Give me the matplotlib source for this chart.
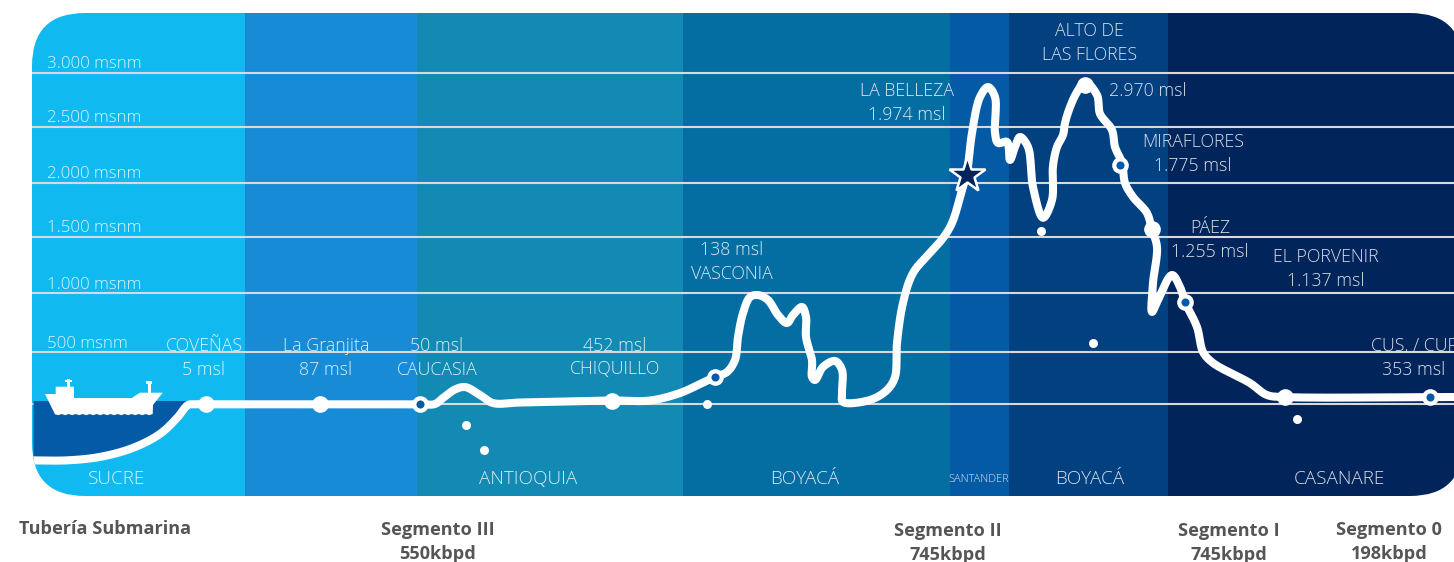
#!/usr/bin/env python
# -*- coding: utf-8 -*-
import numpy as np
import matplotlib
matplotlib.use('Agg')
import matplotlib.pyplot as plt
from matplotlib.patches import FancyBboxPatch, Polygon, Rectangle
from matplotlib.transforms import Affine2D

plt.rcParams['font.family'] = ['Open Sans', 'DejaVu Sans']

W, H = 1454, 562

# elevation axis, the ruled lines are not evenly spaced on the sheet
elev_knots = [-2000, 0, 500, 1000, 1500, 2000, 2500, 3000, 4000]
elev_rows = [614.3, 404.3, 351.7, 292.7, 236.7, 182.7, 126.7, 72.7, -37.3]
grid_elev = [0, 500, 1000, 1500, 2000, 2500, 3000]
grid_names = ['500 msnm', '1.000 msnm', '1.500 msnm', '2.000 msnm', '2.500 msnm', '3.000 msnm']
grid_label_rows = [344, 285, 228, 174, 118, 64]

# departments along the route
band_edges = [32, 245, 417, 683, 950, 1009, 1168, 1463]
band_colors = ['#10B9F0', '#178BD6', '#138AB4', '#046EA3', '#055AA6', '#024080', '#01255A']
band_names = ['SUCRE', 'ANTIOQUIA', 'BOYACÁ', 'SANTANDER', 'BOYACÁ', 'CASANARE']
band_name_x = [117, 528, 805, 979, 1090, 1339]

# pipeline profile: distance along the sheet and elevation
route_x = [33, 67, 100, 133, 160, 177, 188, 194, 206, 320, 420, 435, 443, 454, 465, 480, 493, 520,
           612, 650, 680, 700, 715, 727, 735, 738, 743, 750, 758, 768, 778, 787, 793, 802, 806, 806,
           812, 812, 815, 823, 835, 842, 842, 843, 870, 887, 895, 897, 903, 913, 928, 943, 952,
           962, 967, 972, 980, 988, 995, 995, 998, 1007, 1010, 1015, 1020, 1028, 1033, 1043,
           1052, 1053, 1057, 1063, 1065, 1070, 1077, 1085, 1097, 1100, 1112, 1115, 1122, 1125, 1133, 1147,
           1152, 1157, 1153, 1152, 1158, 1172, 1180, 1185, 1197, 1203, 1213, 1250, 1267, 1285,
           1430, 1454]
route_elev = [-534, -534, -501, -415, -282, -130, -7, 0, 0, 0, 0, 3, 60, 136, 164, 88, 12, 17,
              36, 36, 107, 193, 260, 307, 421, 625, 827, 963, 980, 938, 811, 743, 811, 879, 794, 625,
              421, 260, 231, 355, 412, 326, 107, 22, 41, 136, 260, 574, 913, 1176, 1336, 1488, 1627,
              1932, 2096, 2444, 2775, 2867, 2775, 2444, 2355, 2364, 2203, 2319, 2408, 2319, 1960, 1675,
              1840, 2150, 2319, 2426, 2534, 2682, 2821, 2914, 2794, 2620, 2470, 2319, 2176, 1997, 1868, 1719,
              1562, 1408, 1087, 837, 938, 1158, 1051, 921, 709, 497, 393, 202, 88, 69,
              69, 69]

# stations
solid_x = [206, 320, 612, 1085, 1152, 1285]
solid_elev = [0, 0, 36, 2885, 1571, 69]
ring_x = [420, 715, 1120, 1185, 1430]
ring_elev = [0, 260, 2158, 921, 69]
dot_x = [466, 484, 707, 1041, 1093, 1297]
dot_elev = [-197, -434, 3, 1553, 574, -140]
star_x, star_elev = 967, 2069

# station captions: text, x, row
captions = [
    ('COVEÑAS', 204, 346), ('5 msl', 204, 370),
    ('La Granjita', 326, 346), ('87 msl', 326, 370),
    ('50 msl', 437, 346), ('CAUCASIA', 437, 370),
    ('452 msl', 615, 346), ('CHIQUILLO', 615, 369),
    ('138 msl', 732, 250), ('VASCONIA', 732, 274),
    ('LA BELLEZA', 907, 91), ('1.974 msl', 907, 115),
    ('ALTO DE', 1089, 31), ('LAS FLORES', 1089, 55),
    ('2.970 msl', 1148, 91),
    ('MIRAFLORES', 1193, 142), ('1.775 msl', 1193, 166),
    ('PÁEZ', 1210, 228), ('1.255 msl', 1210, 252),
    ('EL PORVENIR', 1326, 257), ('1.137 msl', 1326, 281),
    ('353 msl', 1414, 370),
]

# pipeline segments under the panel
segments = [('Tubería Submarina', 105, 529), ('Segmento III', 438, 530), ('550kbpd', 438, 554),
            ('Segmento II', 948, 531), ('745kbpd', 948, 555), ('Segmento I', 1229, 531),
            ('745kbpd', 1229, 555), ('Segmento 0', 1389, 530), ('198kbpd', 1389, 554)]


def row_of(elev):
    return np.interp(elev, elev_knots, elev_rows)


def elev_of(row):
    return np.interp(row, elev_rows[::-1], elev_knots[::-1])


def smooth(x, y, n=12):
    # centripetal Hermite through the surveyed points, elevation scaled to sheet units
    x, y = np.asarray(x, float), np.asarray(y, float)
    t = np.r_[0, np.cumsum(np.hypot(np.diff(x), np.diff(y) / 9.0) ** 0.5)]
    mx, my = np.gradient(x, t), np.gradient(y, t)
    s = np.linspace(0, 1, n, endpoint=False)
    h00, h10 = 2*s**3 - 3*s**2 + 1, s**3 - 2*s**2 + s
    h01, h11 = -2*s**3 + 3*s**2, s**3 - s**2
    ox, oy = [], []
    for i in range(len(x) - 1):
        d = t[i+1] - t[i]
        ox.append(h00*x[i] + h10*d*mx[i] + h01*x[i+1] + h11*d*mx[i+1])
        oy.append(h00*y[i] + h10*d*my[i] + h01*y[i+1] + h11*d*my[i+1])
    return np.r_[np.concatenate(ox), x[-1]], np.r_[np.concatenate(oy), y[-1]]


fig = plt.figure(figsize=(W/100, H/100), dpi=100, facecolor='white')
ax = fig.add_axes([0, 0, 1, 1])
ax.set_yscale('function', functions=(lambda e: -row_of(e), lambda r: elev_of(-r)))
ax.set_xlim(0, W)
ax.set_ylim(elev_of(H), elev_of(0))
ax.axis('off')

# pixel rows counted from the top, for captions and the ship icon
px = Affine2D().scale(1, -1).translate(0, H)

panel = FancyBboxPatch((32, 13), 1431, 483, boxstyle='round,pad=0,rounding_size=53',
                       transform=px, facecolor='none', edgecolor='none')
ax.add_patch(panel)

for i, color in enumerate(band_colors):
    band = Rectangle((band_edges[i], 0), band_edges[i+1]-band_edges[i], H, transform=px,
                     facecolor=color, edgecolor='none', zorder=1)
    ax.add_patch(band)
    band.set_clip_path(panel)

for e in grid_elev:
    ln, = ax.plot([32, W], [e, e], color='#D9D9D9', lw=1.5, zorder=2, solid_capstyle='butt')
    ln.set_clip_path(panel)

rx, ry = smooth(route_x, route_elev)

# sea above the submarine stretch
sub = rx <= 188
sea = ax.fill_between(rx[sub], ry[sub], 30, color='#055AA6', lw=0, zorder=3)
sea.set_clip_path(panel)

line, = ax.plot(rx, ry, color='white', lw=5.8, zorder=5, solid_joinstyle='round',
                solid_capstyle='butt')
line.set_clip_path(panel)

ax.plot(solid_x, solid_elev, 'o', ms=12, color='white', mew=0, zorder=6)
ax.plot(ring_x, ring_elev, 'o', ms=12, color='white', mew=0, zorder=6)
ax.plot(ring_x, ring_elev, 'o', ms=5.8, color='#055AA6', mew=0, zorder=7)
ax.plot(dot_x, dot_elev, 'o', ms=6.5, color='white', mew=0, zorder=6)
ax.plot([star_x], [star_elev], marker='*', ms=27, color='#01255A', mec='white', mew=1.8, zorder=7)

# tanker icon, scalloped waterline along the keel
keel_x = np.arange(152.7, 55, -3.5)
keel_y = 414.0 + 1.2 * (np.arange(len(keel_x)) % 2)
hull = [(45, 394), (55.7, 394), (55.7, 386.7), (74, 386.7), (74, 398), (131.7, 398), (140, 392.7),
        (162.7, 392.7), (153, 405)] + list(zip(keel_x, keel_y)) + [(55, 414.3)]
ax.add_patch(Polygon(hull, closed=True, transform=px, facecolor='white', edgecolor='none', zorder=6))
for rect in [(67, 379, 3, 8), (65, 380, 7, 1.5), (147.5, 383, 3, 10), (145.5, 381, 6.5, 2.5)]:
    ax.add_patch(Rectangle(rect[:2], rect[2], rect[3], transform=px, facecolor='white',
                           edgecolor='none', zorder=6))

txt = dict(transform=px, color='white', alpha=0.85, fontweight='light', fontsize=12.8,
           va='center', ha='center', zorder=8)
for s, x, r in captions:
    ax.text(x, r, s, **txt)
# this one runs up to the sheet edge
ax.text(1371, 346, 'CUS. / CUP', **{**txt, 'ha': 'left'})
for s, r in zip(grid_names, grid_label_rows):
    ax.text(47, r, s, **{**txt, 'ha': 'left', 'fontsize': 12.2})

for s, x in zip(band_names, band_name_x):
    size = 7.9 if s == 'SANTANDER' else 13.6
    ax.text(x, 479, s, **{**txt, 'fontsize': size})

for s, x, r in segments:
    ax.text(x, r, s, transform=px, color='#555555', fontsize=13.1, fontweight='bold',
            ha='center', va='center', zorder=8)

plt.savefig('out.png', dpi=100)
